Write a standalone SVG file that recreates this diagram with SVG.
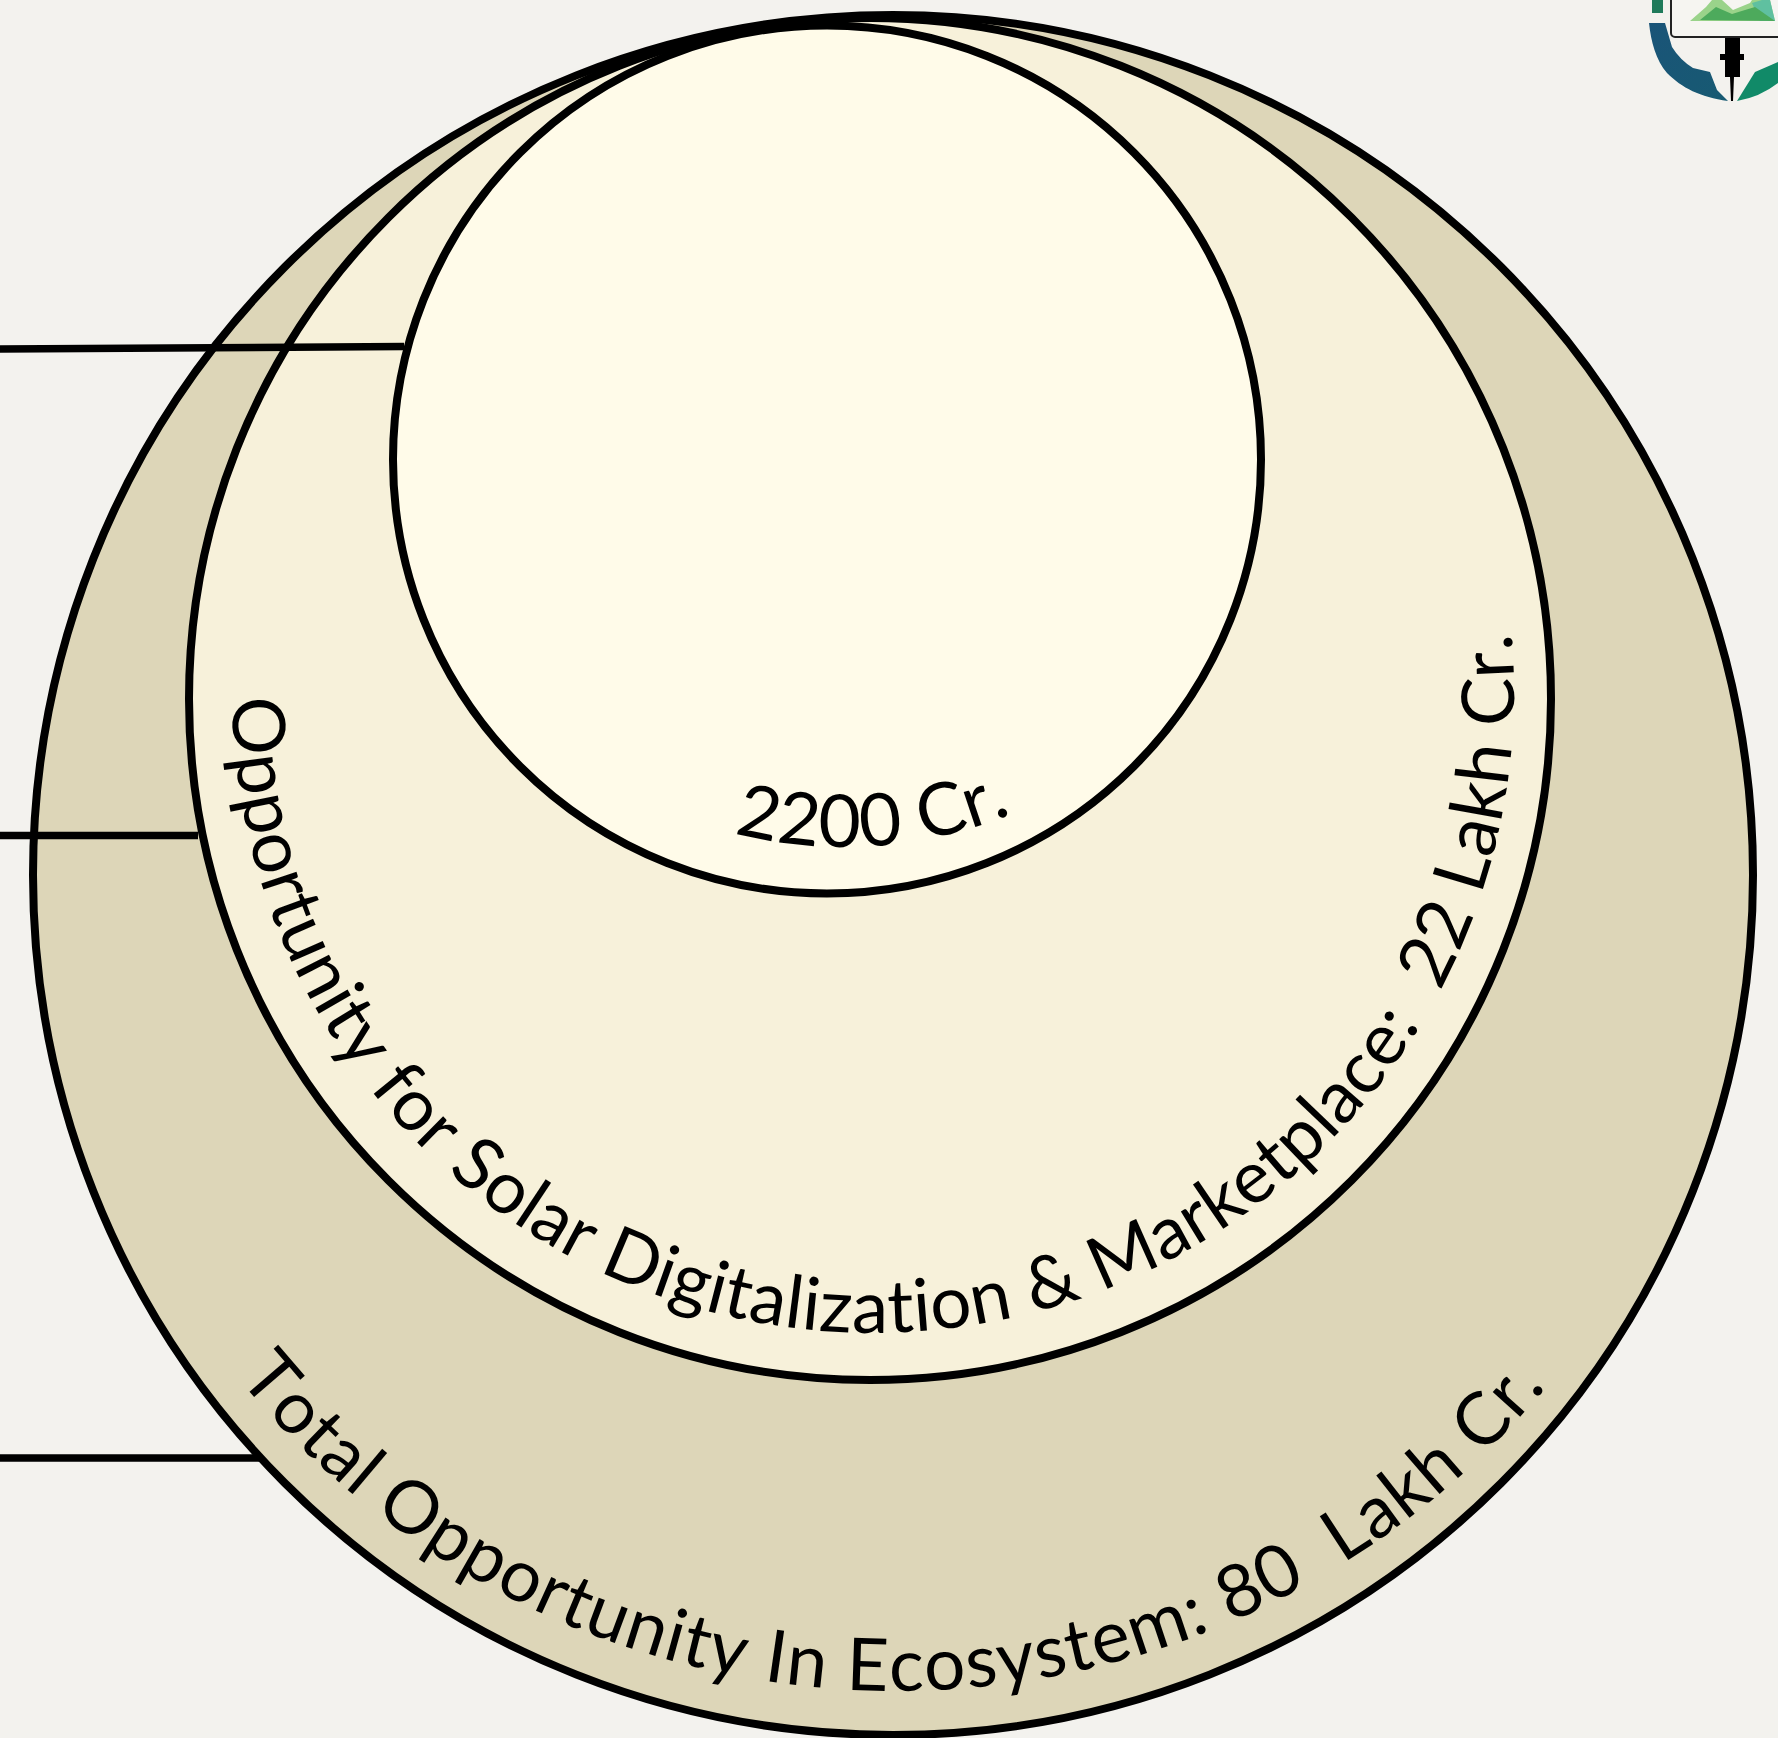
<svg xmlns="http://www.w3.org/2000/svg" width="1778" height="1738" viewBox="0 0 1778 1738">
<style>
.c{stroke:#000;stroke-width:8}
.l{stroke:#000;stroke-width:7.500;fill:none}
.t{font-family:Lato,"Liberation Sans",sans-serif;font-size:73px;fill:#000;white-space:pre;font-variant-ligatures:none;font-kerning:none}
</style>
<defs>
<path id="p1" d="M238 1378A848 848 0 0 0 1590 1330"/>
<path id="p2" d="M232 698A641 641 0 1 0 1494 533"/>
<path id="p3" d="M734 833A440 440 0 0 0 1040 801"/>
<linearGradient id="g1" x1="0" y1="0" x2="1" y2="1"><stop offset="0" stop-color="#1a5478"/><stop offset="1" stop-color="#175a72"/></linearGradient>
</defs>
<rect width="1778" height="1738" fill="#f3f2ee"/>
<g id="logo">
<rect x="1652" y="0" width="11" height="13" fill="#1f7a5a"/>
<path d="M1649 23H1665L1672 47Q1680 60 1693 68L1710 72L1717 90L1728 101C1700 97 1682 88 1667 73C1656 60 1651 42 1649 23Z" fill="url(#g1)"/>
<path d="M1737 101L1755 72L1778 62V83Q1760 97 1737 101Z" fill="#118a68"/>
<rect x="1671" y="-20" width="130" height="57" rx="4" fill="#f6f5f1" stroke="#222" stroke-width="2"/>
<path d="M1690 21L1706 7L1712 0H1722L1733 10L1750 3L1752 0H1770L1775 21Z" fill="#9ad38a"/>
<path d="M1752 3L1762 0H1770L1775 21H1760Z" fill="#5fc0a0"/>
<path d="M1700 20L1716 7L1732 14L1745 10L1755 7L1775 21Z" fill="#4daa5c"/>
<path d="M1725 38H1740V54H1744V60H1740V77H1734L1733 101H1731L1730 77H1725V60H1720V54H1725Z" fill="#000"/>
</g>
<g id="outer"><circle class="c" cx="893" cy="875" r="860" fill="#ddd6b8"/></g>
<g id="middle"><circle class="c" cx="870" cy="699" r="681" fill="#f7f1da"/></g>
<g id="inner"><circle class="c" cx="827" cy="459.500" r="434" fill="#fffbe9"/></g>
<g id="connectors">
<path class="l" d="M0 349L404 346.500"/>
<path class="l" d="M0 835.500H198"/>
<path class="l" d="M0 1458H259"/>
</g>
<g id="labels">
<text class="t" letter-spacing="1.150"><textPath href="#p1">Total Opportunity In Ecosystem: 80  Lakh Cr.</textPath></text>
<text class="t" letter-spacing="0.400"><textPath href="#p2">Opportunity for Solar Digitalization &amp; Marketplace:  22 Lakh Cr.</textPath></text>
<text class="t" letter-spacing="0.400"><textPath href="#p3">2200 Cr.</textPath></text>
</g>
</svg>
